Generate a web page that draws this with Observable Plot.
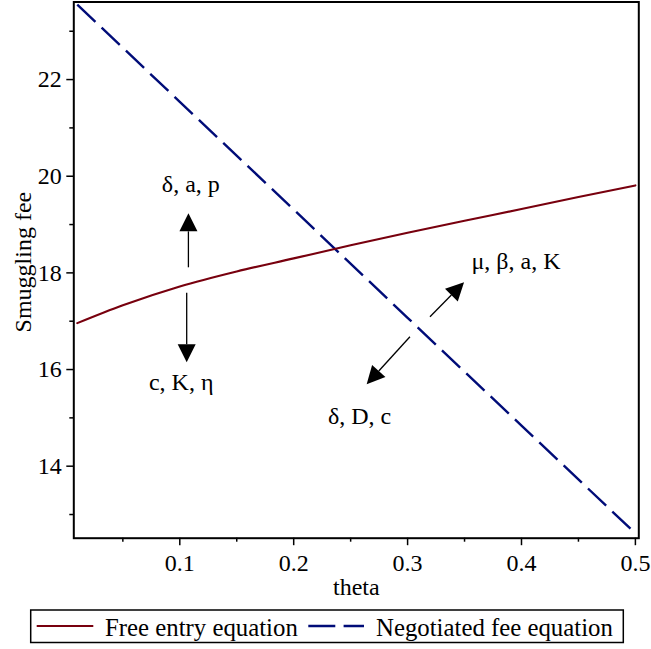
<!DOCTYPE html>
<html>
<head>
<meta charset="utf-8">
<script src="https://cdn.jsdelivr.net/npm/d3@7"></script>
<script src="https://cdn.jsdelivr.net/npm/@observablehq/plot@0.6"></script>
<style>
  body { margin: 0; background: white; }
  #wrap { position: relative; width: 651px; height: 649px; background: white; }
  #legend { position: absolute; left: 0; top: 600px; }
  #wrap svg text { font-family: "Liberation Serif", "Times New Roman", serif !important; font-size: 24px !important; font-variant: normal !important; }
  #wrap svg#legend text { font-size: 24.8px !important; }
</style>
</head>
<body>
<div id="wrap"></div>
<script>
// ---- data ----
const theta = [0.01, 0.05, 0.1, 0.15, 0.2, 0.25, 0.3, 0.35, 0.4, 0.45, 0.5];
const freeEntryFee = [16.96, 17.33, 17.72, 18.03, 18.30, 18.57, 18.83, 19.08, 19.32, 19.57, 19.81];

const thetaNeg = [0.01, 0.1, 0.2, 0.3, 0.4, 0.5];
const negotiatedFee = [23.55, 21.54, 19.31, 17.07, 14.84, 12.61];

const xMajorTicks = [0.1, 0.2, 0.3, 0.4, 0.5];
const xMinorTicks = [0.05, 0.15, 0.25, 0.35, 0.45];
const yMajorTicks = [14, 16, 18, 20, 22];
const yMinorTicks = [13, 15, 17, 19, 21, 23];

const seriesNames = ["Free entry equation", "Negotiated fee equation"];

// annotation arrows (data units): start -> tip
const arrowX1 = [0.108, 0.1065, 0.3201, 0.3025];
const arrowY1 = [18.105, 17.58, 17.083, 16.669];
const arrowX2 = [0.108, 0.1065, 0.3500, 0.2645];
const arrowY2 = [19.222, 16.14, 17.795, 15.684];

// annotation labels
const labelText = ["δ, a, p", "c, K, η", "μ, β, a, K", "δ, D, c"];
const labelX = [0.1097, 0.1012, 0.3952, 0.2578];
const labelY = [19.83, 15.73, 18.23, 15.04];

// ---- build tables ----
const freeData = theta.map((t, i) => ({theta: t, fee: freeEntryFee[i]}));
const negData = thetaNeg.map((t, i) => ({theta: t, fee: negotiatedFee[i]}));
const arrows = arrowX1.map((x, i) => ({x1: x, y1: arrowY1[i], x2: arrowX2[i], y2: arrowY2[i]}));
const labels = labelText.map((t, i) => ({text: t, x: labelX[i], y: labelY[i]}));

const RED = "#78000E";
const BLUE = "#000C78";
const FONT = "'Liberation Serif', 'Times New Roman', serif";

// custom arrow mark with filled heads, positioned through the plot scales
function arrowMark(index, scales) {
  const g = d3.create("svg:g");
  const headLen = 18, headW = 18;
  for (const a of arrows) {
    const x1 = scales.x(a.x1), y1 = scales.y(a.y1);
    const x2 = scales.x(a.x2), y2 = scales.y(a.y2);
    const dx = x2 - x1, dy = y2 - y1, L = Math.hypot(dx, dy);
    const ux = dx / L, uy = dy / L, nx = -uy, ny = ux;
    const bx = x2 - headLen * ux, by = y2 - headLen * uy;
    g.append("line")
      .attr("x1", x1).attr("y1", y1).attr("x2", bx).attr("y2", by)
      .attr("stroke", "black").attr("stroke-width", 1.3);
    g.append("path")
      .attr("d", `M${x2},${y2}L${bx + nx * headW / 2},${by + ny * headW / 2}L${bx - nx * headW / 2},${by - ny * headW / 2}Z`)
      .attr("fill", "black");
  }
  return g.node();
}

const chart = Plot.plot({
  width: 651,
  height: 600,
  marginTop: 1.5,
  marginBottom: 62.3,
  marginLeft: 73.3,
  marginRight: 12.7,
  style: {fontFamily: FONT, fontSize: "24px", background: "white", color: "black", overflow: "visible"},
  x: {domain: [0.00694, 0.50299]},
  y: {domain: [12.51, 23.605]},
  marks: [
    Plot.line(negData, {x: "theta", y: "fee", stroke: BLUE, strokeWidth: 2.4, strokeDasharray: "25,8.5", strokeLinecap: "butt"}),
    Plot.line(freeData, {x: "theta", y: "fee", stroke: RED, strokeWidth: 2.1, curve: "monotone-x"}),
    arrowMark,
    Plot.text(labels, {x: "x", y: "y", text: "text", fontSize: 24, fill: "black", fontFamily: FONT}),
    Plot.axisY({ticks: yMajorTicks, tickSize: 7, tickPadding: 5, strokeWidth: 1.5, label: null, fontSize: 24, fontFamily: FONT}),
    Plot.axisY({ticks: yMinorTicks, tickSize: 4, text: null, strokeWidth: 1.5, label: null}),
    Plot.axisX({ticks: xMajorTicks, tickSize: 7.5, tickPadding: 8, strokeWidth: 1.5, label: null, fontSize: 24, fontFamily: FONT, tickFormat: d => String(d)}),
    Plot.axisX({ticks: xMinorTicks, tickSize: 4, text: null, strokeWidth: 1.5, label: null}),
    Plot.frame({stroke: "black", strokeWidth: 2}),
    Plot.text(["theta"], {frameAnchor: "bottom", textAnchor: "middle", lineAnchor: "middle", dy: 49.6, fontSize: 24, fill: "black"}),
    Plot.text(["Smuggling fee"], {frameAnchor: "left", textAnchor: "middle", lineAnchor: "middle", rotate: -90, dx: -50, dy: -8, fontSize: 24, fill: "black"})
  ]
});

const wrap = document.getElementById("wrap");
wrap.appendChild(chart);

// legend below the plot
const leg = d3.create("svg")
  .attr("id", "legend")
  .attr("width", 651).attr("height", 49)
  .style("font-family", FONT).style("font-size", "24.8px");
leg.append("rect").attr("x", 30.7).attr("y", 10).attr("width", 592.6).attr("height", 32.5)
  .attr("fill", "white").attr("stroke", "black").attr("stroke-width", 1.5);
leg.append("line").attr("x1", 36.7).attr("x2", 93.3).attr("y1", 26).attr("y2", 26)
  .attr("stroke", RED).attr("stroke-width", 2.1);
leg.append("text").attr("x", 105).attr("y", 36).text(seriesNames[0]);
leg.append("line").attr("x1", 308.3).attr("x2", 364).attr("y1", 26).attr("y2", 26)
  .attr("stroke", BLUE).attr("stroke-width", 2.4).attr("stroke-dasharray", "27,8.3");
leg.append("text").attr("x", 376).attr("y", 36).text(seriesNames[1]);
wrap.appendChild(leg.node());
</script>
</body>
</html>
